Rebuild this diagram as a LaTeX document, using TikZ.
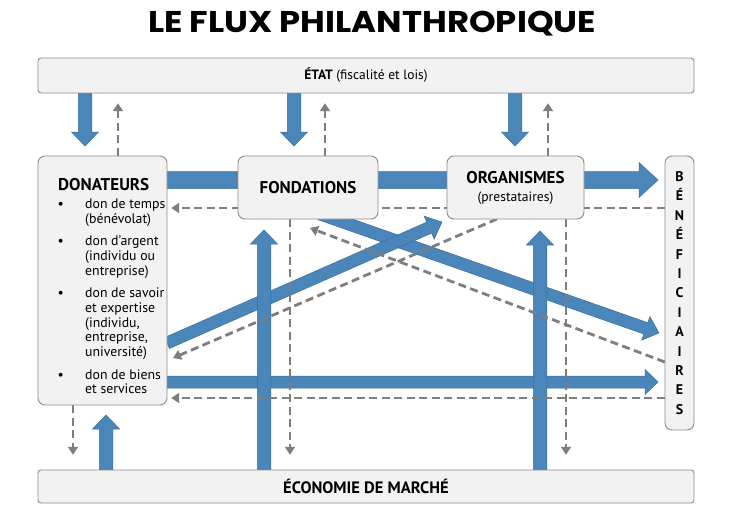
\documentclass[tikz,border=0pt]{standalone}
\usepackage{fontspec}
\setmainfont{PT Sans}
\newfontfamily\titlefont{Poppins}
\usetikzlibrary{calc,arrows.meta}
\definecolor{flowblue}{HTML}{4A86B9}
\definecolor{flowblueline}{HTML}{3B6E9A}
\definecolor{boxfill}{HTML}{F2F2F2}
\definecolor{boxline}{HTML}{8C8C8C}
\definecolor{retgray}{HTML}{7E7E7E}
\newcommand\fatarrow[6]{%
  \coordinate (faq) at ($(#3)!#6!(#2)$);
  \filldraw[#1] ($(#2)!#4!-90:(#3)$) -- ($(faq)!#4!-90:(#3)$) -- ($(faq)!#5!-90:(#3)$) -- (#3)
    -- ($(faq)!#5!90:(#3)$) -- ($(faq)!#4!90:(#3)$) -- ($(#2)!#4!90:(#3)$) -- cycle;}
\begin{document}
\begin{tikzpicture}[x=1pt,y=-1pt,
  box/.style={draw=boxline, fill=boxfill, line width=0.9pt, rounded corners=7pt, inner sep=0pt},
  bar/.style={box, rounded corners=3pt},
  fat/.style={fill=flowblue, draw=flowblueline, line width=0.5pt, line join=miter},
  ret/.style={draw=retgray, line width=2.8pt, dash pattern=on 8pt off 4.5pt, -{Triangle[width=10pt,length=8pt]}},
  ]
\useasboundingbox[fill=white] (0,0) rectangle (744,525);
\node[inner sep=0pt, font=\titlefont\bfseries\fontsize{30}{32}\selectfont] (title) at (372,24) {\scalebox{1.13}[1]{LE FLUX PHILANTHROPIQUE}};

% box nodes (placed first for anchors, redrawn on top later)
\path (366,75.5) node[minimum width=656pt, minimum height=35pt, inner sep=0pt] (etat) {};
\path (366,486.5) node[minimum width=656pt, minimum height=33pt, inner sep=0pt] (eco) {};
\path (102.5,280.5) node[minimum width=129pt, minimum height=249pt, inner sep=0pt] (don) {};
\path (308,187.5) node[minimum width=140pt, minimum height=63pt, inner sep=0pt] (fond) {};
\path (515.5,187.5) node[minimum width=137pt, minimum height=63pt, inner sep=0pt] (org) {};
\path (679.5,293) node[minimum width=29pt, minimum height=274pt, inner sep=0pt] (ben) {};

% blue flows
\coordinate (g1) at (160,180); \coordinate (g2) at (658,180);
\coordinate (h1) at (167,382); \coordinate (h2) at (658,382);
\coordinate (j1) at (320,214); \coordinate (j2) at (659,333);
\coordinate (i1) at (167,343); \coordinate (i2) at (442,222);
\coordinate (a1) at (85,93);  \coordinate (a2) at (85,146);
\coordinate (b1) at (294,93); \coordinate (b2) at (294,146);
\coordinate (c1) at (515,93); \coordinate (c2) at (515,146);
\coordinate (d1) at (106,470); \coordinate (d2) at (106,415);
\coordinate (e1) at (264,470); \coordinate (e2) at (264,230);
\coordinate (f1) at (540,470); \coordinate (f2) at (540,231);
\fatarrow{fat}{g1}{g2}{8.5pt}{17.5pt}{19pt}
\fatarrow{fat}{h1}{h2}{6pt}{12.5pt}{13pt}
\fatarrow{fat}{j1}{j2}{6pt}{12.5pt}{14pt}
\fatarrow{fat}{i1}{i2}{6pt}{12.5pt}{14pt}
\fatarrow{fat}{a1}{a2}{6.75pt}{13.5pt}{14pt}
\fatarrow{fat}{b1}{b2}{6.75pt}{13.5pt}{14pt}
\fatarrow{fat}{c1}{c2}{6.75pt}{13.5pt}{14pt}
\fatarrow{fat}{d1}{d2}{6.75pt}{13.5pt}{14pt}
\fatarrow{fat}{e1}{e2}{6.75pt}{13.5pt}{14pt}
\fatarrow{fat}{f1}{f2}{6.75pt}{13.5pt}{14pt}

% dashed return flows
\draw[ret, shorten >=4pt] (ben.west |- 0,208) -- (don.east |- 0,208);
\draw[ret, shorten >=4pt] (ben.west |- 0,398) -- (don.east |- 0,398);
\coordinate (r3) at (310,228);
\draw[ret] (ben.west |- 0,362) -- (r3);
\coordinate (r4a) at (497,219); \coordinate (r4b) at (173,358);
\draw[ret] (r4a) -- (r4b);
\draw[ret, shorten >=10pt] (don.north -| 118,0) -- (etat.south -| 118,0);
\draw[ret, shorten >=10pt] (fond.north -| 325,0) -- (etat.south -| 325,0);
\draw[ret, shorten >=10pt] (org.north -| 548,0) -- (etat.south -| 548,0);
\draw[ret, shorten >=15pt] (don.south -| 73,0) -- (eco.north -| 73,0);
\draw[ret, shorten >=15pt] (fond.south -| 290,0) -- (eco.north -| 290,0);
\draw[ret, shorten >=15pt] (org.south -| 566,0) -- (eco.north -| 566,0);

% boxes on top
\node[bar, minimum width=656pt, minimum height=35pt, font=\fontsize{13.5}{15}\selectfont] (etatb) at (etat) {\textbf{ÉTAT} (fiscalité et lois)};
\node[bar, minimum width=656pt, minimum height=33pt, font=\bfseries\fontsize{16.5}{18}\selectfont] (ecob) at (eco) {ÉCONOMIE DE MARCHÉ};
\node[box, minimum width=129pt, minimum height=249pt] (donb) at (don) {};
\node[box, minimum width=140pt, minimum height=63pt, font=\bfseries\fontsize{17}{19}\selectfont] (fondb) at (fond) {FONDATIONS};
\node[box, minimum width=137pt, minimum height=63pt, align=center, font=\fontsize{13.6}{18}\selectfont] (orgb) at (org) {{\bfseries\fontsize{17}{19}\selectfont ORGANISMES}\\(prestataires)};
\node[box, minimum width=29pt, minimum height=274pt, align=center, font=\bfseries\fontsize{14}{19.4}\selectfont] (benb) at (ben) {B\\É\\N\\É\\F\\I\\C\\I\\A\\I\\R\\E\\S};

\node[inner sep=0pt, anchor=west, font=\bfseries\fontsize{17}{19}\selectfont] (dontitle) at (58,185) {DONATEURS};
\node[inner sep=0pt, anchor=north west, font=\fontsize{13.8}{14.8}\selectfont] (donlist) at (57.5,198) {%
\begin{tabular}{@{}p{27.5pt}@{}l@{}}
\textbullet & don de temps\\
 & (bénévolat)\\[7.5pt]
\textbullet & don d’argent\\
 & (individu ou\\
 & entreprise)\\[7.5pt]
\textbullet & don de savoir\\
 & et expertise\\
 & (individu,\\
 & entreprise,\\
 & université)\\[7.5pt]
\textbullet & don de biens\\
 & et services
\end{tabular}};
\end{tikzpicture}
\end{document}
